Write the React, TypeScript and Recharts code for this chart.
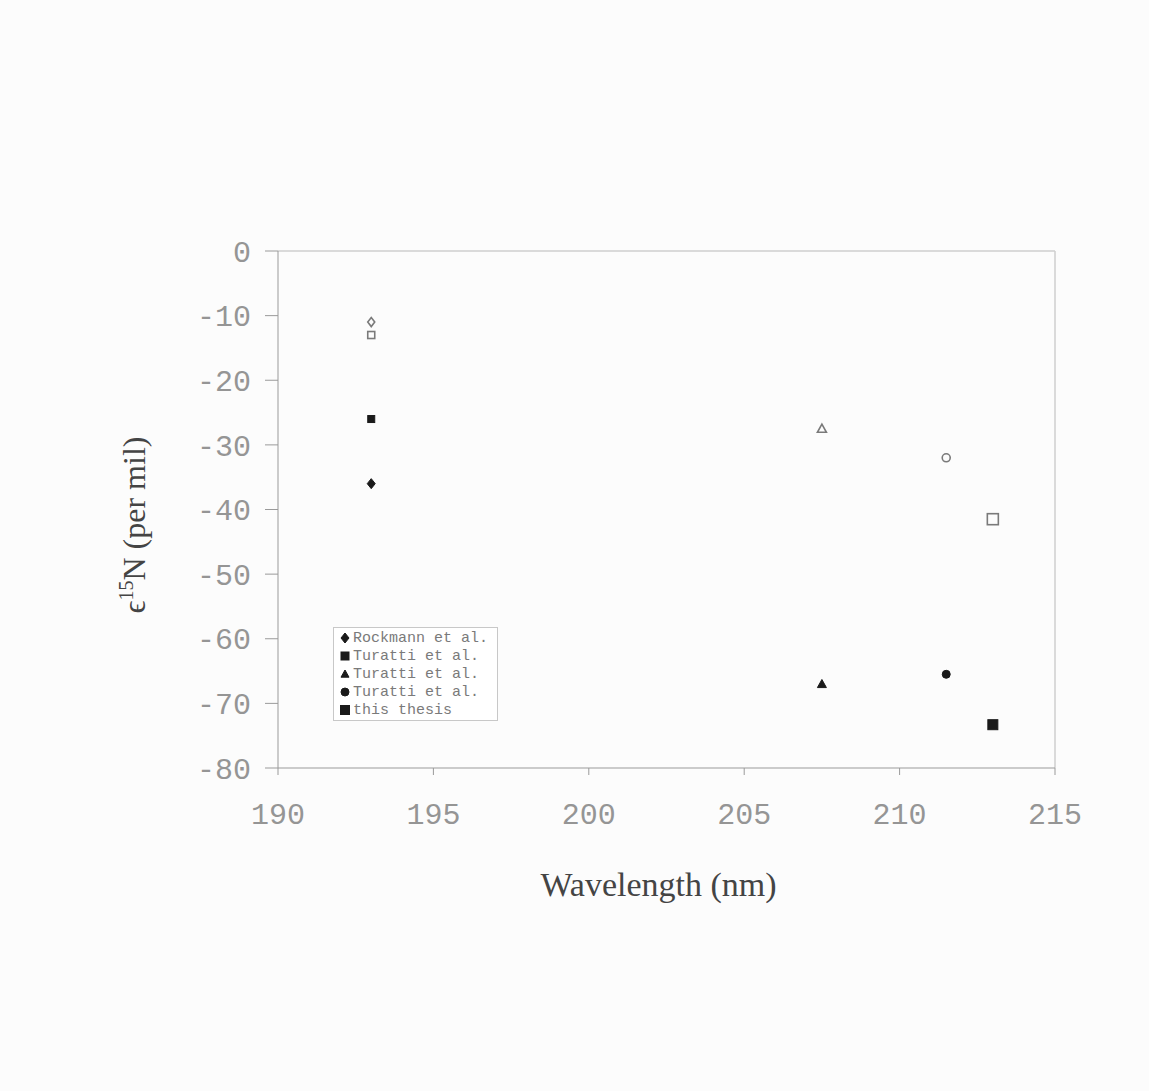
import React from "react";
import {
  ScatterChart, Scatter, XAxis, YAxis, ReferenceLine, Legend, Label,
} from "recharts";

// wavelength (nm) of each data set
const wavelengths = [193, 193, 207.5, 211.5, 213];
const seriesNames = ["Rockmann et al.", "Turatti et al.", "Turatti et al.", "Turatti et al.", "this thesis"];
// filled symbols (legend) and open symbols (same source)
const filledValues = [-36, -26, -67, -65.5, -73.3];
const openValues = [-11, -13, -27.5, -32, -41.5];
const markerKinds = ["diamond", "square", "triangle", "circle", "square"];
const markerSizes = [8, 7, 9, 8, 10];
const openSizes = [7, 7, 9, 8, 11];

const xTicks = [190, 195, 200, 205, 210, 215];
const yTicks = [0, -10, -20, -30, -40, -50, -60, -70, -80];

const tickFont = { fontFamily: "'Liberation Mono', monospace", fontSize: 30, fill: "#959595" };

function drawMarker(kind: string, cx: number, cy: number, s: number, filled: boolean) {
  const fill = filled ? "#1a1a1a" : "none";
  const stroke = filled ? "#1a1a1a" : "#7a7a7a";
  const sw = filled ? 1 : 1.6;
  const h = s / 2;
  if (kind === "diamond")
    return <polygon points={`${cx},${cy - h - 1} ${cx + h},${cy} ${cx},${cy + h + 1} ${cx - h},${cy}`} fill={fill} stroke={stroke} strokeWidth={sw} />;
  if (kind === "square")
    return <rect x={cx - h} y={cy - h} width={s} height={s} fill={fill} stroke={stroke} strokeWidth={sw} />;
  if (kind === "triangle")
    return <polygon points={`${cx},${cy - h} ${cx + h},${cy + h * 0.8} ${cx - h},${cy + h * 0.8}`} fill={fill} stroke={stroke} strokeWidth={sw} />;
  return <circle cx={cx} cy={cy} r={h} fill={fill} stroke={stroke} strokeWidth={sw} />;
}

const shapeFor = (kind: string, size: number, filled: boolean) => (props: any) =>
  drawMarker(kind, props.cx, props.cy, size, filled);

const LegendBox = (props: any) => {
  const items = (props.payload || []).filter((p: any) => p.type !== "none");
  return (
    <div style={{ border: "1px solid #c8c8c8", background: "#fff", padding: "1px 4px 1px 5px", width: 154 }}>
      {items.map((it: any, i: number) => (
        <div key={i} style={{ height: 18, display: "flex", alignItems: "center" }}>
          <svg width={12} height={18} style={{ marginRight: 2 }}>
            {drawMarker(markerKinds[i], 6, 9, i === 4 ? 9 : 8, true)}
          </svg>
          <span style={{ fontFamily: "'Liberation Mono', monospace", fontSize: 15, color: "#7a7a7a", whiteSpace: "nowrap" }}>
            {it.value}
          </span>
        </div>
      ))}
    </div>
  );
};

export default function App() {
  return (
    <div style={{ position: "absolute", left: 0, top: 0, width: 1149, height: 1091, background: "#fcfcfc" }}>
      <ScatterChart width={1149} height={1091} margin={{ top: 251, right: 94, bottom: 263, left: 218 }}>
        <XAxis
          type="number"
          dataKey="x"
          domain={[190, 215]}
          ticks={xTicks}
          tick={tickFont}
          tickSize={7}
          tickMargin={28}
          height={60}
          stroke="#9a9a9a"
          allowDataOverflow
        >
          <Label
            value="Wavelength (nm)"
            position="bottom"
            offset={44}
            dx={-8}
            style={{ fontFamily: "'Liberation Serif', serif", fontSize: 34, fill: "#444" }}
          />
        </XAxis>
        <YAxis
          type="number"
          dataKey="y"
          domain={[-80, 0]}
          ticks={yTicks}
          tick={tickFont}
          tickSize={13}
          tickMargin={14}
          width={60}
          stroke="#9a9a9a"
          allowDataOverflow
        >
          <Label
            content={() => (
              <text
                transform="translate(145,525) rotate(-90)"
                textAnchor="middle"
                style={{ fontFamily: "'Liberation Serif', serif", fontSize: 32, fill: "#444" }}
              >
                ϵ<tspan dy={-12} fontSize={20}>15</tspan><tspan dy={12}>N (per mil)</tspan>
              </text>
            )}
          />
        </YAxis>
        <ReferenceLine y={0} stroke="#cfcfcf" strokeWidth={1.5} />
        <ReferenceLine x={215} stroke="#cfcfcf" strokeWidth={1.5} />
        {wavelengths.map((w, i) => (
          <Scatter
            key={"o" + i}
            name={seriesNames[i] + " (open)"}
            legendType="none"
            data={[{ x: w, y: openValues[i] }]}
            shape={shapeFor(markerKinds[i], openSizes[i], false)}
            isAnimationActive={false}
          />
        ))}
        {wavelengths.map((w, i) => (
          <Scatter
            key={"f" + i}
            name={seriesNames[i]}
            legendType="square"
            data={[{ x: w, y: filledValues[i] }]}
            shape={shapeFor(markerKinds[i], markerSizes[i], true)}
            isAnimationActive={false}
          />
        ))}
        <Legend
          content={LegendBox}
          layout="horizontal"
          verticalAlign="middle"
          align="center"
          wrapperStyle={{ position: "absolute", left: 333, top: 627, width: "auto", bottom: "auto" }}
        />
      </ScatterChart>
    </div>
  );
}
